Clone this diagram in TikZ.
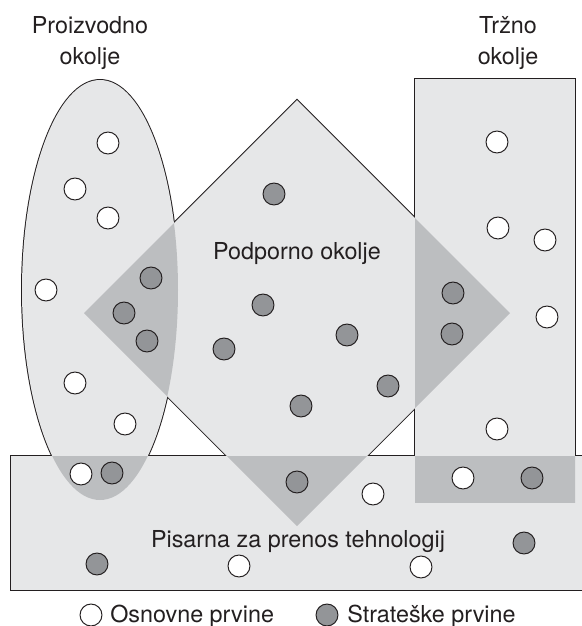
\documentclass[tikz,border=0pt]{standalone}
\usepackage{fontspec}
\setmainfont{TeX Gyre Heros}
\definecolor{svetla}{HTML}{E6E7E8}
\definecolor{temna}{HTML}{BCBEC0}
\definecolor{siva}{HTML}{939598}
\definecolor{crta}{HTML}{231F20}

\begin{document}
\begin{tikzpicture}[x=0.025cm, y=-0.025cm,
    okolje/.style={draw=crta, line width=1.4pt, fill=svetla},
    notranje/.style={fill=svetla},
    prekrivanje/.style={fill=temna},
    osnovna/.style={circle, draw=crta, line width=0.7pt, fill=white, minimum size=15.6pt, inner sep=0pt},
    strateska/.style={osnovna, fill=siva},
    besedilo/.style={font=\fontsize{16.6}{22}\selectfont, text=crta, inner sep=0pt}]
  \useasboundingbox (0,0) rectangle (582,626);

  \def\proizvodno{(100,290) ellipse [x radius=78, y radius=210]}
  \def\podporno{(297,100) -- (510,313) -- (297,526) -- (84,313) -- cycle}
  \def\trzno{(415,79) rectangle (575,502)}
  \def\pisarna{(11,456) rectangle (600,590)}

  % obrobe, nato notranjost brez crt
  \draw[okolje] \proizvodno;
  \draw[okolje] \podporno;
  \draw[okolje] \trzno;
  \draw[okolje] \pisarna;
  \fill[notranje] \proizvodno;
  \fill[notranje] \podporno;
  \fill[notranje] \trzno;
  \fill[notranje] \pisarna;

  % prekrivanja
  \begin{scope}
    \clip \proizvodno;
    \fill[prekrivanje] \podporno;
    \fill[prekrivanje] \pisarna;
  \end{scope}
  \begin{scope}
    \clip \podporno;
    \fill[prekrivanje] \trzno;
    \fill[prekrivanje] \pisarna;
  \end{scope}
  \begin{scope}
    \clip \trzno;
    \fill[prekrivanje] \pisarna;
  \end{scope}

  \foreach \x/\y [count=\i] in {108/143, 75/189, 108/218, 46/290, 75/383, 125/424, 81/474,
      497/142, 498/228, 545/240, 547/317, 497/429, 463/478, 373/494, 239/566, 421/567}
    \node[osnovna] (o\i) at (\x,\y) {};
  \foreach \x/\y [count=\i] in {112/473, 151/278, 124/313, 147/341, 274/194, 263/305, 224/349, 347/335,
      388/386, 301/406, 453/293, 452/334, 297/482, 532/478, 524/543, 97/564}
    \node[strateska] (s\i) at (\x,\y) {};

  \node[besedilo, anchor=base] (proizvodno1) at (90,33) {Proizvodno};
  \node[besedilo, anchor=base] (proizvodno2) at (90,64) {okolje};
  \node[besedilo, anchor=base] (trzno1) at (508,33) {Tržno};
  \node[besedilo, anchor=base] (trzno2) at (508,64) {okolje};
  \node[besedilo, anchor=base] (podporno) at (297,259) {Podporno okolje};
  \node[besedilo, anchor=base] (pisarna) at (298,547) {Pisarna za prenos tehnologij};

  % legenda
  \node[osnovna] (legenda-o) at (91,615) {};
  \node[besedilo, anchor=base west] (legenda-ot) at (110,622) {Osnovne prvine};
  \node[strateska] (legenda-s) at (327,615) {};
  \node[besedilo, anchor=base west] (legenda-st) at (347,622) {Strateške prvine};
\end{tikzpicture}
\end{document}
